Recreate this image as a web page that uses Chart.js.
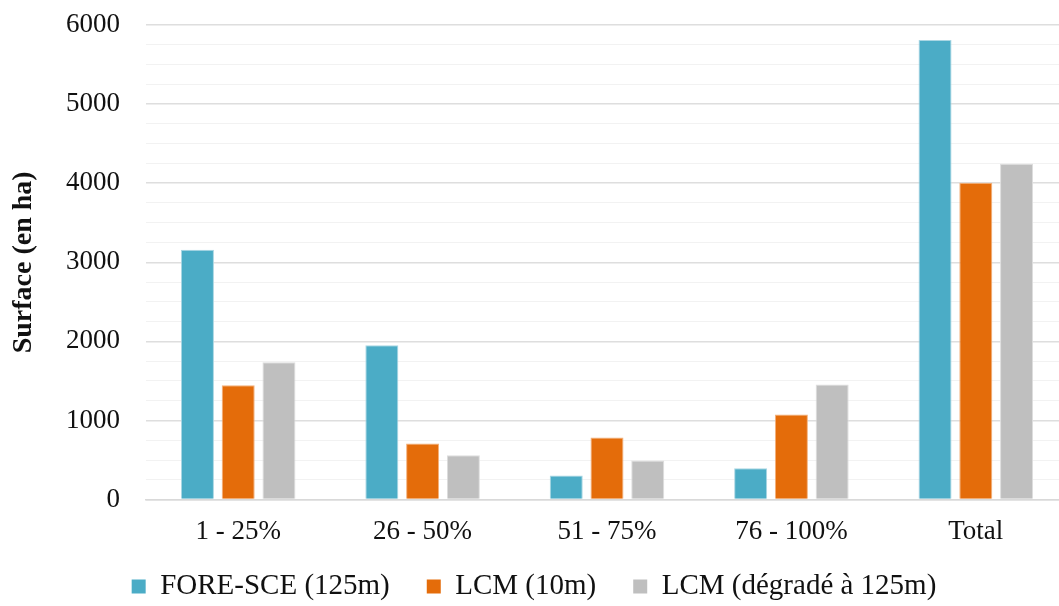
<!DOCTYPE html>
<html>
<head>
<meta charset="utf-8">
<script src="https://cdn.jsdelivr.net/npm/chart.js@4/dist/chart.umd.min.js"></script>
<style>
html,body{margin:0;padding:0;background:#fff;overflow:hidden;}
#wrap{position:absolute;left:0;top:0;width:1068px;height:606px;}
</style>
</head>
<body>
<div id="wrap"><canvas id="c"></canvas></div>
<script>
const categories = ["1 - 25%", "26 - 50%", "51 - 75%", "76 - 100%", "Total"];
const seriesNames = ["FORE-SCE (125m)", "LCM (10m)", "LCM (dégradé à 125m)"];
const foreSce = [3160, 1950, 305, 395, 5810];
const lcm10 = [1445, 710, 785, 1075, 4005];
const lcm125 = [1735, 560, 495, 1455, 4245];
const yTicks = [0, 1000, 2000, 3000, 4000, 5000, 6000];

const FONT = "'Liberation Serif','Times New Roman',serif";
const fills = ["#4BACC6", "#E46C0A", "#BFBFBF"];
const borders = ["#A9D6E3", "#F3B07A", "#DDDDDD"];

new Chart(document.getElementById('c'), {
  type: 'bar',
  data: {
    labels: categories,
    datasets: [foreSce, lcm10, lcm125].map((d, i) => ({
      label: seriesNames[i],
      data: d,
      backgroundColor: fills[i],
      borderColor: borders[i],
      borderWidth: 1,
      categoryPercentage: 0.663,
      barPercentage: 0.81
    }))
  },
  options: {
    responsive: true,
    maintainAspectRatio: false,
    animation: false,
    layout: { padding: { top: 25, right: 0, bottom: -5, left: 0 } },
    plugins: {
      tooltip: { enabled: false },
      legend: {
        position: 'bottom',
        labels: {
          font: { family: FONT, size: 29 },
          color: '#111',
          boxWidth: 14,
          boxHeight: 14,
          padding: 8,
          generateLabels: chart => {
            const items = Chart.defaults.plugins.legend.labels.generateLabels(chart);
            items.forEach((it, i) => {
              it.lineWidth = 0;
              if (i < items.length - 1) it.text = it.text + '\u2002\u2002';
            });
            return items;
          }
        }
      }
    },
    scales: {
      x: {
        grid: { display: false, drawTicks: false },
        border: { display: true, color: '#D9D9D9', width: 1.5 },
        ticks: { font: { family: FONT, size: 27 }, color: '#111', padding: 16 }
      },
      y: {
        min: 0,
        max: 6000,
        border: { display: false },
        grid: {
          drawTicks: false,
          color: ctx => (ctx.tick && ctx.tick.value % 1000 === 0) ? '#DEDEDE' : '#F2F2F2',
          lineWidth: ctx => (ctx.tick && ctx.tick.value % 1000 === 0) ? 1.5 : 1
        },
        ticks: {
          stepSize: 250,
          autoSkip: false,
          padding: 26,
          font: { family: FONT, size: 27 },
          color: '#111',
          callback: v => yTicks.includes(v) ? String(v) : ''
        },
        title: {
          display: true,
          text: 'Surface (en ha)',
          font: { family: FONT, size: 28, weight: 'bold' },
          color: '#111',
          padding: { top: 7, bottom: 0 }
        },
        afterFit: s => { s.width = 146; s.paddingTop = 0; s.paddingBottom = 0; }
      }
    }
  }
});
</script>
</body>
</html>
